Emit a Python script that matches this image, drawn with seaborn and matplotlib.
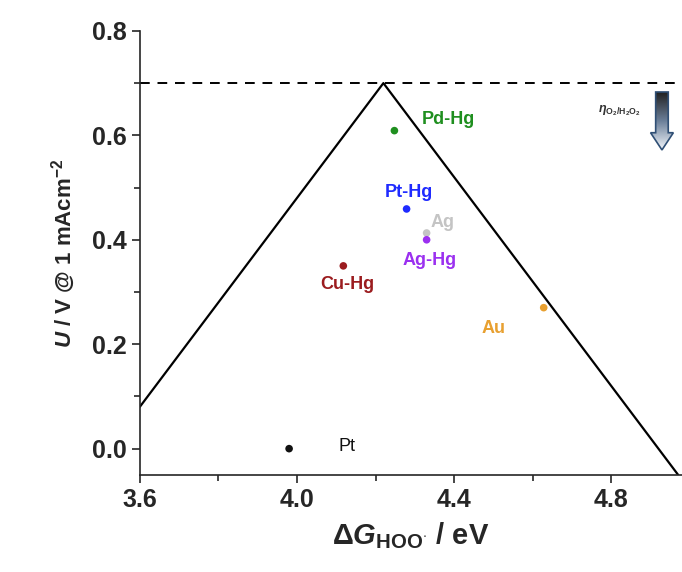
import numpy as np
import pandas as pd
import matplotlib.pyplot as plt
import seaborn as sns
from matplotlib.patches import Polygon
from matplotlib.colors import LinearSegmentedColormap
from matplotlib.ticker import MultipleLocator

#%%
# datos
catalysts = ["Pt", "Cu-Hg", "Pd-Hg", "Pt-Hg", "Ag", "Ag-Hg", "Au"]
dG_hoo = [3.98, 4.118, 4.248, 4.279, 4.33, 4.33, 4.628]
U_onset = [0.0, 0.35, 0.609, 0.459, 0.413, 0.40, 0.27]
colors = ["#111111", "#9b1c1f", "#1f8f1f", "#1f2bff", "#c4c4c4", "#9b30f0", "#e8a030"]

# volcano (pendientes ±1)
volcano_x = [3.6, 4.22, 4.97]
volcano_y = [0.08, 0.70, -0.05]
eq_potential = 0.70

# posiciones de etiquetas
label_x = [4.128, 4.128, 4.386, 4.286, 4.37, 4.337, 4.50]
label_y = [0.004, 0.314, 0.63, 0.49, 0.433, 0.36, 0.23]

#%%
sns.set_style("ticks")
plt.rcParams['font.family'] = ['Liberation Sans', 'DejaVu Sans']
plt.rcParams['mathtext.fontset'] = 'custom'
plt.rcParams['mathtext.rm'] = 'Liberation Sans:bold'
plt.rcParams['mathtext.it'] = 'Liberation Sans:bold:italic'
plt.rcParams['mathtext.bf'] = 'Liberation Sans:bold'

fig = plt.figure(figsize=(6.82, 5.72), dpi=100)
ax = fig.add_axes([0.205, 0.17, 0.795, 0.776])

df = pd.DataFrame({"dG": dG_hoo, "U": U_onset, "cat": catalysts})
vdf = pd.DataFrame({"x": volcano_x, "y": volcano_y})

sns.lineplot(data=vdf, x="x", y="y", ax=ax, color="black", lw=1.6, sort=False)
ax.axhline(eq_potential, color="black", lw=1.4, ls=(0, (5, 4)))
sns.scatterplot(data=df, x="dG", y="U", hue="cat", palette=colors, s=30,
                edgecolor="none", legend=False, ax=ax, zorder=3)

for cat, lx, ly, c in zip(catalysts, label_x, label_y, colors):
    ax.text(lx, ly, cat, color=c, fontsize=13,
            weight="normal" if cat == "Pt" else "bold", ha="center", va="center")

# flecha con gradiente
arrow = np.array([[4.913, 0.683], [4.945, 0.683], [4.945, 0.605], [4.958, 0.605],
                  [4.929, 0.572], [4.900, 0.605], [4.913, 0.605]])
poly = Polygon(arrow, closed=True, facecolor="none", edgecolor="#2f4f75", lw=1.2, zorder=5)
ax.add_patch(poly)
cmap = LinearSegmentedColormap.from_list("grad", ["#222222", "#6b7f99", "#f2f6fb"])
grad = np.linspace(0, 1, 100).reshape(-1, 1)
im = ax.imshow(grad, cmap=cmap, aspect="auto", extent=[4.898, 4.96, 0.572, 0.683],
               origin="upper", zorder=4)
im.set_clip_path(poly)
ax.text(4.82, 0.648, r"$\eta_{\mathrm{O_2/H_2O_2}}$", fontsize=9, color="#333333",
        ha="center", va="center")

ax.set_xlim(3.6, 4.98)
ax.set_ylim(-0.05, 0.8)
ax.xaxis.set_minor_locator(MultipleLocator(0.2))
ax.yaxis.set_minor_locator(MultipleLocator(0.1))
ax.tick_params(which="major", direction="out", length=6, width=1.2, labelsize=18)
ax.tick_params(which="minor", direction="out", length=4, width=1.2)
ax.set_xticks([3.6, 4.0, 4.4, 4.8])
ax.set_xticklabels(["3.6", "4.0", "4.4", "4.8"], fontweight="bold")
ax.set_yticks([0.0, 0.2, 0.4, 0.6, 0.8])
ax.set_yticklabels(["0.0", "0.2", "0.4", "0.6", "0.8"], fontweight="bold")

ax.set_xlabel(r"$\Delta \mathit{G}_{\mathrm{HOO^{\cdot}}}$ / eV", fontsize=21,
              fontweight="bold", labelpad=6)
ax.set_ylabel(r"$\mathit{U}$ / V @ 1 mAcm$^{-2}$", fontsize=16, fontweight="bold",
              labelpad=10)

sns.despine(ax=ax)
for sp in ["left", "bottom"]:
    ax.spines[sp].set_linewidth(1.2)

fig.savefig("out.png", dpi=100)
